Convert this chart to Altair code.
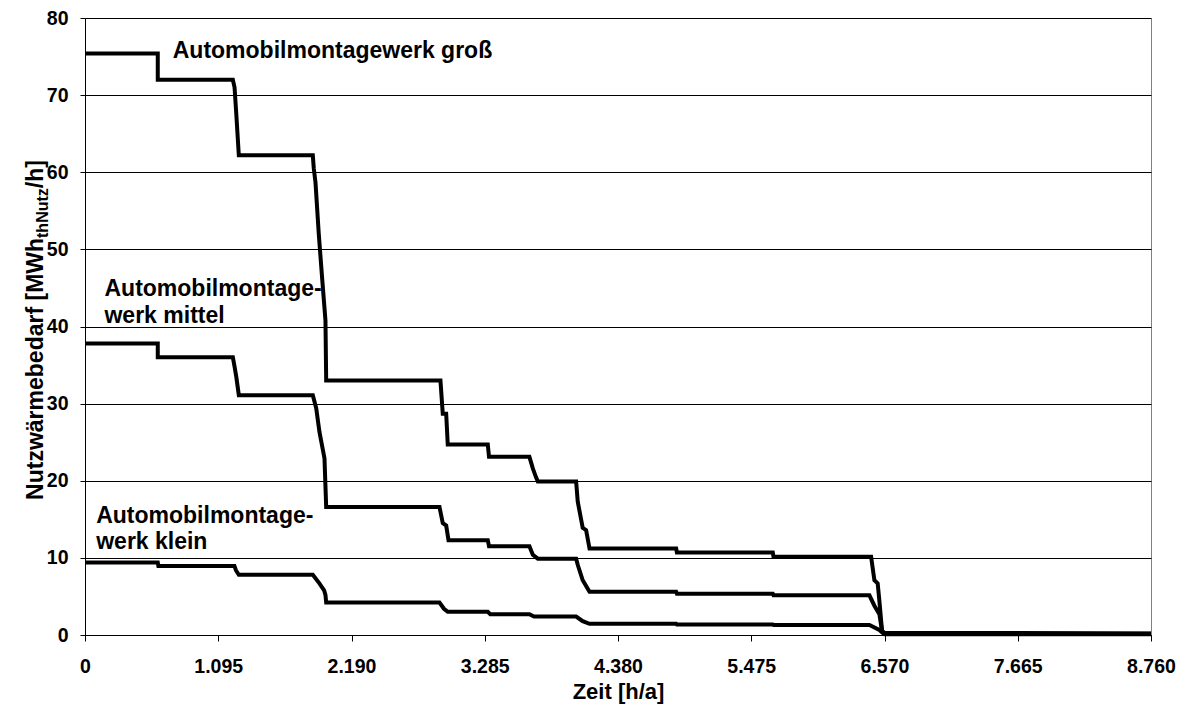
import altair as alt
import pandas as pd

# ---- data ----
gross_h = [0, 598, 598, 1215, 1229, 1243, 1264, 1872, 1880, 1894, 1921, 1950, 1976, 1982,
           2921, 2940, 2968, 2981, 3310, 3320, 3652, 3680, 3705, 3721, 4036, 4049, 4090, 4118, 4146,
           4858, 4864, 5652, 5658, 6460, 6487, 6514, 6528, 6550, 6570, 8760]
gross_v = [75.4, 75.4, 72.0, 72.0, 71.0, 67.6, 62.2, 62.2, 60.5, 58.7, 52.0, 46.0, 40.8, 33.0,
           33.0, 28.7, 28.7, 24.7, 24.7, 23.1, 23.1, 21.6, 20.5, 19.9, 19.9, 17.3, 13.9, 13.6, 11.2,
           11.2, 10.7, 10.7, 10.15, 10.15, 7.1, 6.7, 4.4, 0.5, 0.3, 0.2]

mittel_h = [0, 598, 598, 1215, 1229, 1243, 1264, 1872, 1900, 1927, 1968, 1982,
            2913, 2940, 2968, 2987, 3310, 3320, 3652, 3680, 3721, 4036, 4049, 4090, 4146,
            4858, 4864, 5652, 5658, 6446, 6487, 6528, 6550, 6570, 8760]
mittel_v = [37.8, 37.8, 36.0, 36.0, 34.8, 33.5, 31.1, 31.1, 29.4, 26.3, 22.9, 16.6,
            16.6, 14.5, 14.2, 12.3, 12.3, 11.5, 11.5, 10.4, 9.9, 9.9, 9.1, 7.1, 5.6,
            5.6, 5.35, 5.35, 5.15, 5.15, 3.8, 2.7, 0.5, 0.2, 0.15]

klein_h = [0, 598, 603, 1228, 1240, 1264, 1872, 1926, 1965, 1976, 1982, 2913, 2950, 2981,
           3310, 3330, 3652, 3690, 4036, 4090, 4146, 4858, 4864, 5652, 5658, 6446, 6528, 6553,
           6570, 8760]
klein_v = [9.4, 9.4, 8.95, 8.95, 8.4, 7.8, 7.8, 6.7, 5.8, 5.2, 4.2, 4.2, 3.4, 3.0,
           3.0, 2.7, 2.7, 2.4, 2.4, 1.8, 1.45, 1.45, 1.35, 1.35, 1.3, 1.3, 0.65, 0.3,
           0.1, 0.1]

series_names = ["groß", "mittel", "klein"]

x_ticks = [0, 1095, 2190, 3285, 4380, 5475, 6570, 7665, 8760]
y_ticks = [0, 10, 20, 30, 40, 50, 60, 70, 80]

ann_text = ["Automobilmontagewerk groß", "Automobilmontage-\nwerk mittel", "Automobilmontage-\nwerk klein"]
ann_h = [721, 160, 92]
ann_v = [74.8, 43.9, 14.55]

x_title = "Zeit [h/a]"
y_title_main = "Nutzwärmebedarf [MWh"
y_title_sub = "thNutz"
y_title_end = "/h]"

# ---- build tables ----
rows = []
for name, hs, vs in zip(series_names, [gross_h, mittel_h, klein_h], [gross_v, mittel_v, klein_v]):
    for i, (h, v) in enumerate(zip(hs, vs)):
        rows.append({"series": name, "h": h, "v": v, "i": i})
df = pd.DataFrame(rows)
ann_df = pd.DataFrame({"text": ann_text, "h": ann_h, "v": ann_v})

FONT = "Liberation Sans"
W, H = 1066, 617
LBL = 19.5

x_scale = alt.Scale(domain=[0, 8760], nice=False, zero=False)
y_scale = alt.Scale(domain=[0, 80], nice=False)

x_axis = alt.Axis(values=x_ticks, grid=False, tickSize=6, labelPadding=16,
                  labelExpr="replace(format(datum.value, ','), ',', '.')",
                  labelFont=FONT, labelFontWeight="bold", labelFontSize=LBL,
                  labelColor="black", labelFlush=False,
                  title=x_title, titleFont=FONT, titleFontWeight="bold", titleFontSize=22,
                  titleColor="black", titleBaseline="alphabetic", titleY=63)
y_axis = alt.Axis(values=y_ticks, grid=True, tickSize=5, labelPadding=12,
                  labelFont=FONT, labelFontWeight="bold", labelFontSize=LBL,
                  labelColor="black", labelFlush=False, title="")

lines = alt.Chart(df).mark_line(color="black", strokeWidth=4, strokeJoin="miter").encode(
    x=alt.X("h:Q", scale=x_scale, axis=x_axis),
    y=alt.Y("v:Q", scale=y_scale, axis=y_axis),
    detail="series:N",
    order="i:Q",
)

ann = alt.Chart(ann_df).mark_text(align="left", baseline="alphabetic", font=FONT,
                                  fontWeight="bold", fontSize=23, lineHeight=26.7,
                                  lineBreak="\n", color="black").encode(
    x=alt.X("h:Q", scale=x_scale),
    y=alt.Y("v:Q", scale=y_scale),
    text="text:N",
)

# y-axis title with subscript, built from three rotated text pieces
TS, SS = 23, 16
w_main = 11.389 * TS
w_sub = 3.11 * SS
w_end = 1.222 * TS
total = w_main + w_sub + w_end
y_start = 312 + total / 2
bx = -42.5

def piece(txt, size, xpos, ypos):
    return alt.Chart(pd.DataFrame({"t": [txt]})).mark_text(
        angle=270, align="left", baseline="alphabetic", font=FONT, fontWeight="bold",
        fontSize=size, color="black").encode(
        text="t:N", x=alt.value(xpos), y=alt.value(ypos))

yt1 = piece(y_title_main, TS, bx, y_start)
yt2 = piece(y_title_sub, SS, bx + 5, y_start - w_main)
yt3 = piece(y_title_end, TS, bx, y_start - w_main - w_sub)

chart = alt.layer(lines, ann, yt1, yt2, yt3).properties(
    width=W, height=H,
    padding={"left": 85, "top": 18, "right": 34, "bottom": 78},
    autosize="none",
    background="white",
).configure_view(
    stroke="#808080", strokeWidth=1
).configure_axis(
    domainColor="black", domainWidth=1, tickColor="black", tickWidth=1,
    gridColor="black", gridWidth=1, gridOpacity=1,
)

chart.save("out.html", embed_options={"renderer": "svg", "actions": False})
